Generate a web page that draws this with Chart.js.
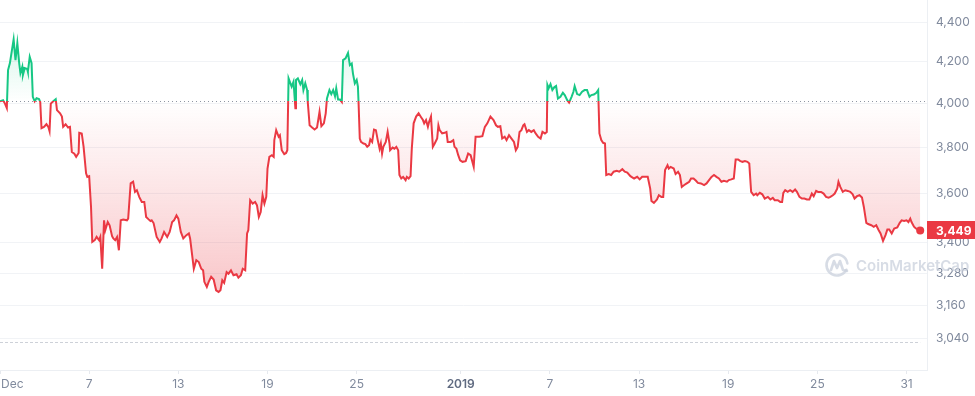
<!DOCTYPE html>
<html>
<head>
<meta charset="utf-8">
<script src="https://cdn.jsdelivr.net/npm/chart.js@4.4.0/dist/chart.umd.min.js"></script>
<style>
  html, body { margin: 0; padding: 0; background: #fff; }
  #wrap { position: relative; width: 975px; height: 396px; }
</style>
</head>
<body>
<div id="wrap"><canvas id="priceChart" width="975" height="396"></canvas></div>
<script>
// hours since 2018-12-01 00:00
const hours = [
  0,5,8,11,13,16,22,25,28,31,33,36,37,40,44,45,48,51,53,56,59,63,65,67,71,75,78,80,82,86,
  90,92,97,100,102,106,110,113,116,120,123,127,128,132,135,139,141,144,147,149,153,156,160,162,165,168,170,174,177,181,
  183,186,189,192,195,199,205,207,211,215,218,221,225,229,233,236,240,243,245,248,
  253,258,261,265,270,274,278,281,285,288,292,296,301,305,307,310,313,317,321,325,
  328,330,334,337,341,345,349,353,356,359,362,366,369,373,377,382,385,389,392,396,
  399,401,404,408,412,415,418,421,424,427,430,432,435,439,442,443,446,450,452,455,
  459,462,464,466,469,471,474,477,478,481,485,488,490,493,496,497,500,504,508,512,
  516,519,523,526,528,532,535,538,541,543,546,549,552,554,558,562,565,568,570,573,
  576,578,579,581,583,587,590,593,596,598,601,604,607,610,613,615,617,619,623,626,
  629,630,634,637,640,643,645,648,651,655,657,660,663,665,668,672,676,680,683,685,
  688,691,693,696,699,702,706,708,710,714,718,721,723,728,732,734,737,740,743,747,
  752,756,760,765,768,774,779,783,787,792,797,801,804,808,811,815,818,822,826,830,
  833,836,839,842,845,847,851,854,858,862,865,869,873,876,880,883,884,886,889,892,
  895,898,901,905,909,912,916,919,923,926,928,932,936,940,944,948,952,955,959,963,
  966,968,971,974,977,979,983,987,991,996,1000,1005,1009,1013,1018,1024,1029,1033,1037,1043,
  1046,1050,1052,1056,1061,1064,1068,1071,1074,1078,1080,1083,1088,1091,1095,1098,1101,1105,1109,1113,
  1116,1120,1124,1127,1132,1137,1141,1145,1149,1153,1157,1161,1165,1169,1174,1177,1181,1185,1188,1192,
  1195,1199,1203,1207,1210,1213,1217,1221,1223,1227,1231,1235,1240,1244,1248,1251,1256,1260,1263,1265,
  1268,1272,1276,1280,1284,1287,1291,1295,1299,1303,1307,1311,1314,1318,1321,1326,1330,1334,1338,1341,
  1345,1348,1352,1354,1357,1361,1365,1369,1373,1377,1380,1384,1388,1392,1395,1399,1402,1407,1411,1415,
  1419,1422,1426,1430,1433,1436,1440,1444,1449,1453,1456,1460,1464,1467,1470,1472,1476,1479,1483,1486
];
const prices = [
  4011,4016,4000,3979,4160,4194,4312,4209,4293,4194,4145,4176,4136,4170,4165,4152,4225,4194,4032,4011,
  4025,4021,4008,3887,3893,3905,3893,3873,4000,4011,4021,3970,3955,3940,3893,3905,3890,3893,3780,3773,
  3759,3776,3866,3863,3803,3687,3672,3675,3545,3403,3410,3423,3410,3423,3298,3490,3450,3483,3470,3426,
  3417,3410,3423,3370,3490,3493,3490,3497,3644,3651,3608,3615,3586,3566,3566,3504,3494,3487,3490,3479,
  3423,3403,3417,3443,3423,3443,3483,3490,3510,3497,3443,3417,3430,3437,3417,3357,3298,3331,3324,3298,
  3292,3248,3229,3248,3267,3257,3216,3210,3216,3254,3244,3285,3279,3292,3273,3277,3264,3273,3298,3292,
  3437,3450,3573,3559,3566,3552,3504,3524,3594,3559,3587,3708,3759,3766,3759,3833,3878,3848,3855,3788,
  3771,3776,3788,4120,4096,4080,4104,3978,4112,4120,4092,4112,4064,4096,4064,4008,3900,3890,3881,3890,
  3962,3896,3909,3955,4024,4064,4045,4064,4035,4072,4019,4019,4008,4209,4217,4244,4184,4192,4143,4096,
  4112,4080,4008,3840,3825,3818,3815,3803,3810,3836,3825,3881,3878,3833,3795,3818,3773,3803,3825,3870,
  3818,3788,3800,3795,3803,3788,3680,3665,3672,3658,3672,3665,3675,3795,3909,3940,3955,3937,3924,3909,
  3924,3893,3916,3940,3803,3818,3840,3900,3878,3863,3866,3870,3825,3825,3833,3803,3795,3766,3744,3737,
  3740,3773,3766,3715,3848,3848,3851,3893,3909,3940,3924,3900,3893,3896,3840,3848,3833,3855,3840,3825,
  3788,3803,3870,3878,3900,3905,3870,3878,3870,3878,3863,3848,3840,3870,3863,3870,4088,4072,4092,4064,
  4077,4083,4024,4032,4051,4040,4016,4005,4032,4056,4083,4045,4040,4056,4064,4064,4032,4040,4043,4051,
  4064,3863,3833,3821,3818,3680,3684,3680,3694,3698,3694,3705,3694,3690,3675,3665,3672,3661,3672,3672,
  3672,3622,3570,3562,3576,3594,3587,3587,3701,3722,3708,3715,3708,3684,3694,3680,3629,3637,3644,3651,
  3665,3665,3655,3646,3644,3637,3644,3658,3672,3680,3672,3665,3651,3655,3651,3658,3661,3665,3747,3747,
  3741,3737,3740,3737,3730,3608,3594,3601,3594,3604,3598,3580,3587,3576,3583,3573,3573,3566,3566,3604,
  3615,3608,3615,3608,3618,3608,3587,3580,3580,3576,3576,3601,3590,3612,3608,3608,3601,3587,3584,3587,
  3594,3601,3622,3651,3629,3608,3615,3612,3608,3598,3580,3590,3594,3584,3545,3480,3475,3470,3464,3470,
  3450,3437,3407,3430,3453,3453,3437,3457,3461,3480,3490,3487,3490,3483,3497,3483,3464,3457,3453,3449
];
const openPrice = 4012;   // dotted reference line
const lowPrice = 3027;    // dashed lower line
const yTicks = [3040, 3160, 3280, 3400, 3600, 3800, 4000, 4200, 4400];
const xTickHours = [0, 144, 288, 432, 576, 744, 888, 1032, 1176, 1320, 1464];
const xTickLabels = ['Dec', '7', '13', '19', '25', '2019', '7', '13', '19', '25', '31'];
const yMin = 2930, yMax = 4515, xMax = 1497;

const colorUp = '#16c784';
const colorDown = '#ea3943';
const textGrey = '#808a9d';

// fraction of chart height where the reference line sits
function baseFrac(chart) {
  const area = chart.chartArea;
  const yb = chart.scales.y.getPixelForValue(openPrice);
  return Math.min(1, Math.max(0, (yb - area.top) / (area.bottom - area.top)));
}

// no extra room for first/last tick labels
function noPad(s) {
  s.paddingTop = 0;
  s.paddingBottom = 0;
  s.paddingLeft = 0;
  s.paddingRight = 0;
}

const guideLines = {
  id: 'guideLines',
  beforeDatasetsDraw(chart) {
    const { ctx, chartArea, scales } = chart;
    ctx.save();
    // dotted open price line
    const yb = Math.round(scales.y.getPixelForValue(openPrice)) + 0.5;
    ctx.setLineDash([1, 3]);
    ctx.strokeStyle = '#8f96a3';
    ctx.lineWidth = 1;
    ctx.beginPath();
    ctx.moveTo(chartArea.left, yb);
    ctx.lineTo(chartArea.right, yb);
    ctx.stroke();
    // dashed low line
    const yl = Math.round(scales.y.getPixelForValue(lowPrice)) + 0.5;
    ctx.setLineDash([3, 2]);
    ctx.strokeStyle = '#cdd1d8';
    ctx.beginPath();
    ctx.moveTo(scales.x.getPixelForValue(hours[0]), yl);
    ctx.lineTo(scales.x.getPixelForValue(hours[hours.length - 1]), yl);
    ctx.stroke();
    ctx.restore();
  }
};

const overlays = {
  id: 'overlays',
  afterDraw(chart) {
    const { ctx, chartArea, scales, width } = chart;
    ctx.save();

    // x axis labels
    ctx.textBaseline = 'middle';
    xTickHours.forEach((h, i) => {
      const x = scales.x.getPixelForValue(h);
      const bold = xTickLabels[i] === '2019';
      ctx.font = (bold ? '600 ' : '') + '12px Inter, sans-serif';
      ctx.fillStyle = bold ? '#5f6a80' : textGrey;
      ctx.textAlign = i === 0 ? 'left' : 'center';
      ctx.fillText(xTickLabels[i], i === 0 ? x + 1 : x, chartArea.bottom + 14);
    });

    // watermark
    const cx = width - 138, cy = chartArea.bottom - 105;
    ctx.globalAlpha = 0.75;
    ctx.strokeStyle = '#c9d0dc';
    ctx.fillStyle = '#c9d0dc';
    ctx.lineWidth = 2.6;
    ctx.lineCap = 'round';
    ctx.lineJoin = 'round';
    ctx.beginPath();
    ctx.arc(cx, cy, 10.5, Math.PI * 0.15, Math.PI * 1.95);
    ctx.stroke();
    ctx.beginPath();
    ctx.moveTo(cx - 6, cy + 5);
    ctx.lineTo(cx - 3, cy - 4);
    ctx.lineTo(cx, cy + 3);
    ctx.lineTo(cx + 3, cy - 4);
    ctx.lineTo(cx + 6, cy + 5);
    ctx.lineTo(cx + 10, cy + 6);
    ctx.stroke();
    ctx.font = '600 15px Inter, sans-serif';
    ctx.textAlign = 'left';
    ctx.fillText('CoinMarketCap', cx + 19, cy + 1);
    ctx.globalAlpha = 1;

    // last price tag
    const last = prices[prices.length - 1];
    const yp = scales.y.getPixelForValue(last);
    ctx.fillStyle = colorDown;
    ctx.fillRect(chartArea.right, Math.round(yp - 9), width - chartArea.right, 18);
    ctx.fillStyle = '#ffffff';
    ctx.font = '700 12px Inter, sans-serif';
    ctx.fillText(last.toLocaleString('en-US'), chartArea.right + 9, yp + 0.5);
    ctx.restore();
  }
};

new Chart(document.getElementById('priceChart'), {
  type: 'line',
  data: {
    labels: hours,
    datasets: [{
      data: hours.map((h, i) => ({ x: h, y: prices[i] })),
      borderWidth: 2,
      tension: 0,
      fill: { value: openPrice },
      borderColor: (c) => {
        const chart = c.chart;
        if (!chart.chartArea) return colorDown;
        const f = baseFrac(chart);
        const g = chart.ctx.createLinearGradient(0, chart.chartArea.top, 0, chart.chartArea.bottom);
        g.addColorStop(0, colorUp);
        g.addColorStop(f, colorUp);
        g.addColorStop(f, colorDown);
        g.addColorStop(1, colorDown);
        return g;
      },
      backgroundColor: (c) => {
        const chart = c.chart;
        if (!chart.chartArea) return 'transparent';
        const f = baseFrac(chart);
        const g = chart.ctx.createLinearGradient(0, chart.chartArea.top, 0, chart.chartArea.bottom);
        g.addColorStop(0, 'rgba(22, 199, 132, 0.28)');
        g.addColorStop(f, 'rgba(22, 199, 132, 0)');
        g.addColorStop(f, 'rgba(234, 57, 67, 0)');
        g.addColorStop(1, 'rgba(234, 57, 67, 0.4)');
        return g;
      },
      pointRadius: (c) => c.dataIndex === prices.length - 1 ? 4 : 0,
      pointBackgroundColor: colorDown,
      pointBorderColor: colorDown,
      pointBorderWidth: 0,
      pointHoverRadius: 0
    }]
  },
  options: {
    responsive: false,
    animation: false,
    devicePixelRatio: 1,
    events: [],
    layout: { padding: 0, autoPadding: false },
    plugins: {
      legend: { display: false },
      tooltip: { enabled: false }
    },
    scales: {
      x: {
        type: 'linear',
        min: 0,
        max: xMax,
        afterBuildTicks: (s) => { s.ticks = xTickHours.map((v) => ({ value: v })); },
        afterFit: (s) => { s.height = 26; noPad(s); },
        ticks: { display: false },
        grid: { drawOnChartArea: false, drawTicks: true, tickLength: 4, color: '#e6e9ee' },
        border: { color: '#eceff3' }
      },
      y: {
        type: 'logarithmic',
        position: 'right',
        min: yMin,
        max: yMax,
        afterBuildTicks: (s) => { s.ticks = yTicks.map((v) => ({ value: v })); },
        afterFit: (s) => { s.width = 48; noPad(s); },
        ticks: {
          padding: 9,
          color: textGrey,
          font: { family: 'Inter, sans-serif', size: 12 },
          autoSkip: false,
          callback: (v) => Number(v).toLocaleString('en-US')
        },
        grid: { color: '#f1f3f6', drawTicks: false },
        border: { color: '#eceff3' }
      }
    }
  },
  plugins: [guideLines, overlays]
});
</script>
</body>
</html>
